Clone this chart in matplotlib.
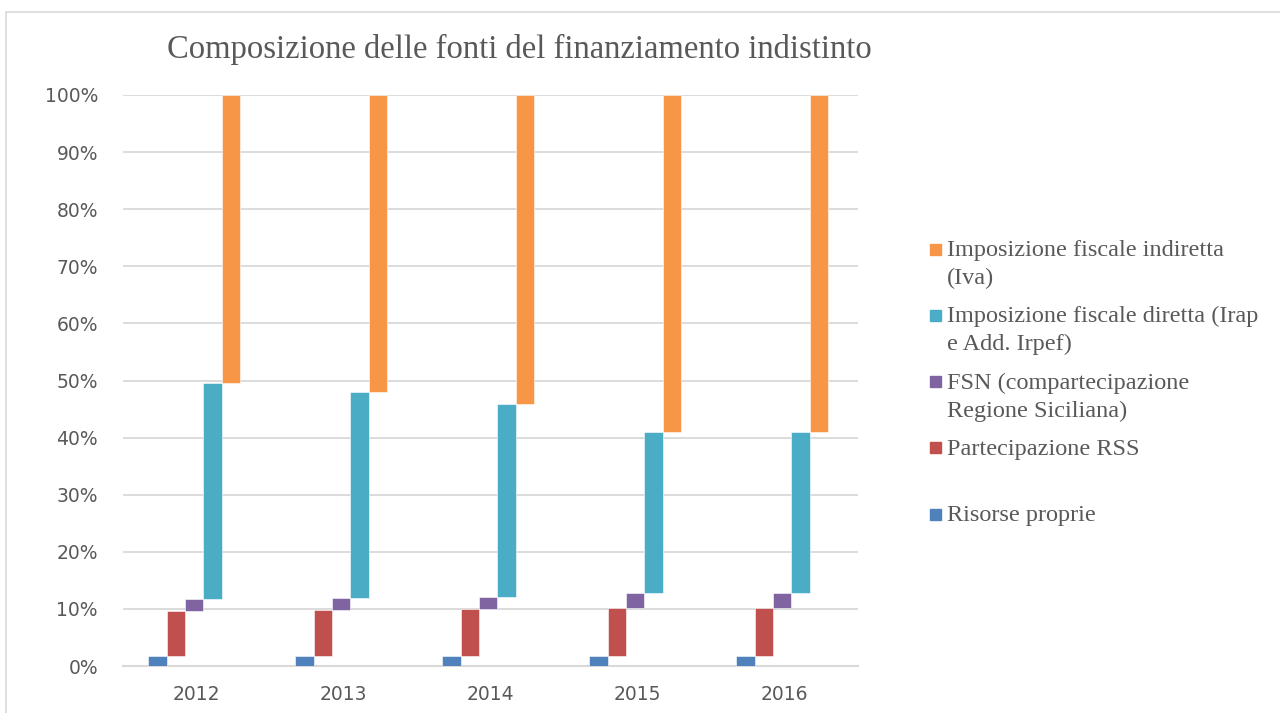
import numpy as np
import matplotlib.pyplot as plt
from matplotlib.patches import Rectangle
from matplotlib.ticker import PercentFormatter

# Dati (quote percentuali per anno)
anni = ['2012', '2013', '2014', '2015', '2016']
serie = ['Risorse proprie', 'Partecipazione RSS', 'FSN (compartecipazione Regione Siciliana)',
         'Imposizione fiscale diretta (Irap e Add. Irpef)', 'Imposizione fiscale indiretta (Iva)']
risorse_proprie = [1.75, 1.75, 1.75, 1.75, 1.75]
partecipazione_rss = [7.85, 8.05, 8.15, 8.45, 8.35]
fsn = [2.1, 2.05, 2.2, 2.6, 2.6]
imposizione_diretta = [37.9, 36.05, 33.8, 28.2, 28.3]
imposizione_indiretta = [50.4, 52.1, 54.1, 59.0, 59.0]

# etichette della legenda, come nel grafico originale (dall'alto in basso)
legenda = [('Imposizione fiscale indiretta\n(Iva)', 4),
           ('Imposizione fiscale diretta (Irap\ne Add. Irpef)', 3),
           ('FSN (compartecipazione\nRegione Siciliana)', 2),
           ('Partecipazione RSS', 1),
           ('Risorse proprie', 0)]

colori = ['#4F81BD', '#C0504D', '#8064A2', '#4BACC6', '#F79646']
grigio = '#595959'

valori = np.array([risorse_proprie, partecipazione_rss, fsn,
                   imposizione_diretta, imposizione_indiretta]) / 100
basi = np.vstack([np.zeros(len(anni)), np.cumsum(valori, axis=0)[:-1]])

fig = plt.figure(figsize=(12.8, 7.13), dpi=100)
ax = fig.add_axes([123 / 1280, 47 / 713, 735 / 1280, 571 / 713])

x = np.arange(len(anni))
w = 0.125
for i in range(len(serie)):
    ax.bar(x + (i - 2) * w - 0.015, valori[i], w, bottom=basi[i], color=colori[i],
           edgecolor='white', linewidth=0.4, zorder=3)

ax.set_xlim(-0.5, len(anni) - 0.5)
ax.set_ylim(0, 1)
ax.set_yticks(np.arange(0, 1.01, 0.1))
ax.yaxis.set_major_formatter(PercentFormatter(1.0, decimals=0))
ax.set_xticks(x)
ax.set_xticklabels(anni)
ax.grid(axis='y', color='#D9D9D9', linewidth=1.3, zorder=0)
for s in ['top', 'right', 'left']:
    ax.spines[s].set_visible(False)
ax.spines['bottom'].set_color('#D9D9D9')
ax.spines['bottom'].set_linewidth(1.5)
ax.tick_params(axis='y', length=0, pad=18, labelsize=13.5, labelcolor=grigio)
ax.tick_params(axis='x', length=0, pad=14, labelsize=13.5, labelcolor=grigio)

# titolo
fig.text(519 / 1280, 1 - 49 / 713, 'Composizione delle fonti del finanziamento indistinto',
         ha='center', va='center', fontsize=23.5, color=grigio, family='Liberation Serif')

# legenda disegnata a mano
for k, (testo, idx) in enumerate(legenda):
    yc = 249 + k * 66.3
    fig.patches.append(Rectangle((930 / 1280, 1 - (yc + 5.5) / 713), 11 / 1280, 11 / 713,
                                 transform=fig.transFigure, color=colori[idx]))
    fig.text(947 / 1280, 1 - (yc - 9) / 713, testo, ha='left', va='top', fontsize=17.5,
             color=grigio, family='Liberation Serif', linespacing=1.42)

# bordo esterno
fig.patches.append(Rectangle((6 / 1280, -0.05), 1.1, 1 - 12 / 713 + 0.05,
                             transform=fig.transFigure, fill=False,
                             edgecolor='#D9D9D9', linewidth=1.2))

fig.savefig('out.png', dpi=100)
